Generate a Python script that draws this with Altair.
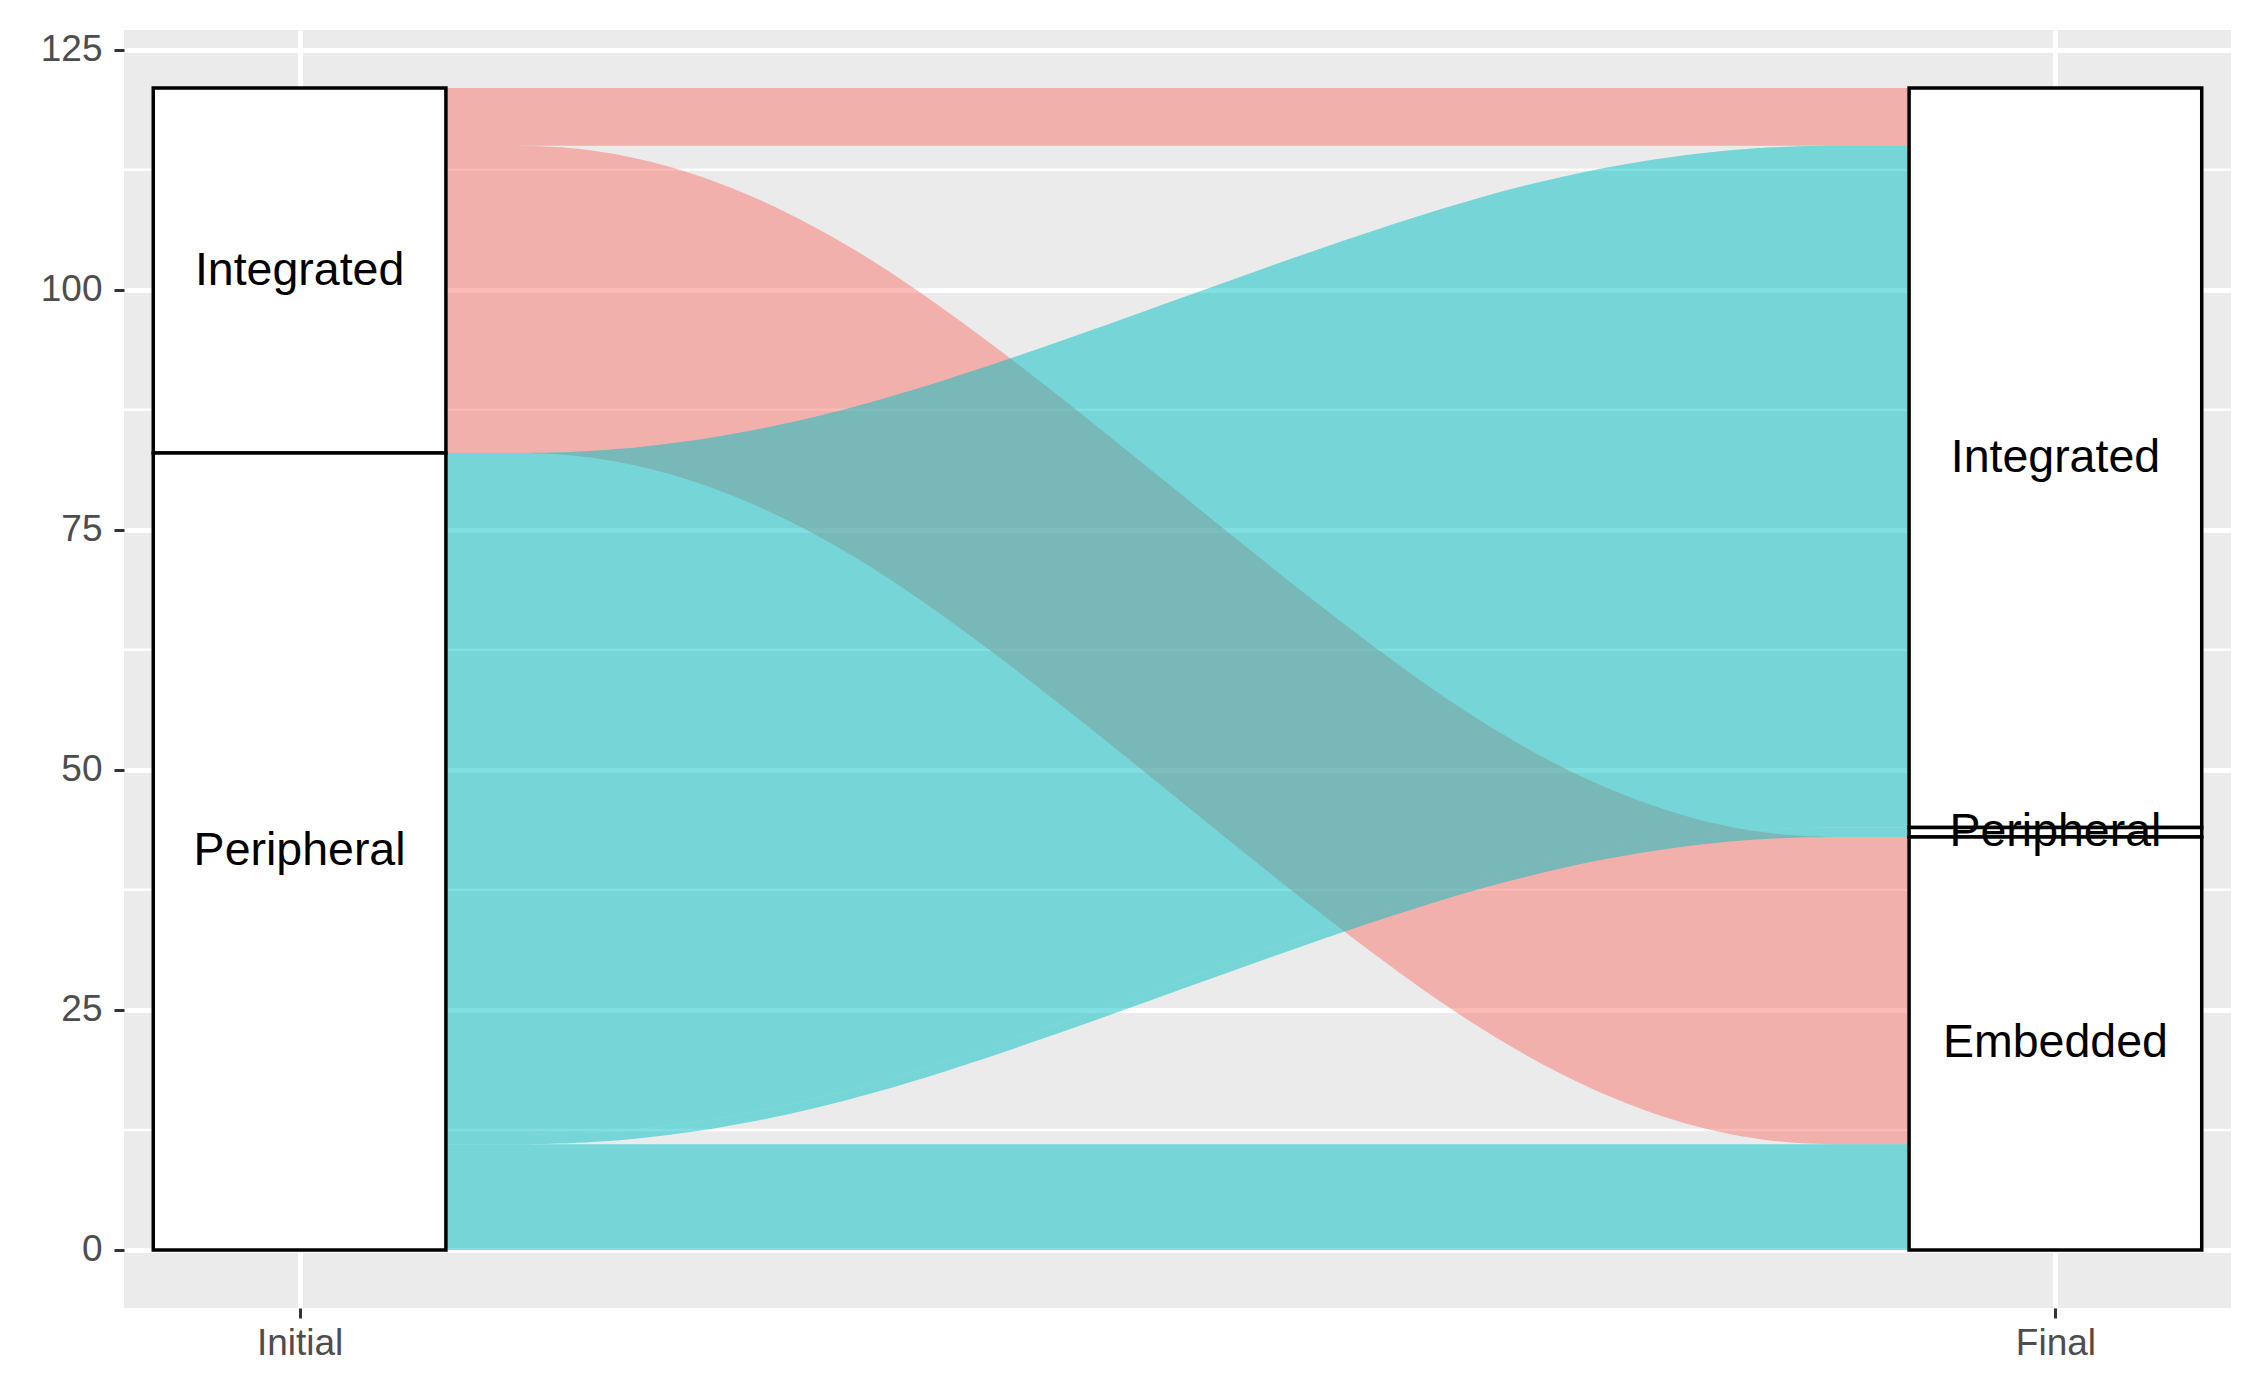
import altair as alt
import pandas as pd

# ---- data ----
axis_names = ["Initial", "Final"]
initial_strata = ["Integrated", "Peripheral"]
initial_counts = [38, 83]
final_strata = ["Integrated", "Peripheral", "Embedded"]
final_counts = [77, 1, 43]
flow_from = ["Integrated", "Integrated", "Peripheral", "Peripheral", "Peripheral"]
flow_to = ["Integrated", "Embedded", "Integrated", "Peripheral", "Embedded"]
flow_counts = [6, 32, 71, 1, 11]
y_ticks = [0, 25, 50, 75, 100, 125]
fill_colors = {"Integrated": "#F8766D", "Peripheral": "#00BFC4"}

# ---- layout helpers (stratum half width in axis units) ----
HW = 1 / 12
total = sum(initial_counts)


def stack(names, counts):
    out = {}
    top = total
    for n, c in zip(names, counts):
        out[n] = (top - c, top)
        top -= c
    return out


init_pos = stack(initial_strata, initial_counts)
fin_pos = stack(final_strata, final_counts)

strata_rows = []
for n in initial_strata:
    lo, hi = init_pos[n]
    strata_rows.append(dict(x0=1 - HW, x1=1 + HW, xc=1.0, y0=lo, y1=hi, ym=(lo + hi) / 2, label=n))
for n in final_strata:
    lo, hi = fin_pos[n]
    strata_rows.append(dict(x0=2 - HW, x1=2 + HW, xc=2.0, y0=lo, y1=hi, ym=(lo + hi) / 2, label=n))
strata_df = pd.DataFrame(strata_rows)

start_top = {n: init_pos[n][1] for n in initial_strata}
end_top = {n: fin_pos[n][1] for n in final_strata}
order_to = {n: i for i, n in enumerate(final_strata)}
order_from = {n: i for i, n in enumerate(initial_strata)}
flows = list(zip(flow_from, flow_to, flow_counts))

start = {}
for f in sorted(range(len(flows)), key=lambda i: (order_from[flows[i][0]], order_to[flows[i][1]])):
    a, b, c = flows[f]
    start[f] = (start_top[a] - c, start_top[a])
    start_top[a] -= c
end = {}
for f in sorted(range(len(flows)), key=lambda i: (order_to[flows[i][1]], order_from[flows[i][0]])):
    a, b, c = flows[f]
    end[f] = (end_top[b] - c, end_top[b])
    end_top[b] -= c

x0, x1 = 1 + HW, 2 - HW
L = x1 - x0

minor = [(y_ticks[i] + y_ticks[i + 1]) / 2 for i in range(len(y_ticks) - 1)]
minor_df = pd.DataFrame({"yv": minor})

FONT = "Liberation Sans"
xscale = alt.Scale(domain=[0.9, 2.1], nice=False, zero=False)
yscale = alt.Scale(domain=[-6.05, 127.05], nice=False, zero=False)

xaxis = alt.Axis(values=[1, 2], labelExpr="datum.value == 1 ? 'Initial' : 'Final'",
                 title=None, domain=False, grid=True, gridColor="white", gridWidth=5,
                 tickColor="#333333", tickWidth=3, tickSize=10, labelFont=FONT,
                 labelFontSize=37, labelColor="#4D4D4D", labelPadding=7)
yaxis = alt.Axis(values=y_ticks, title=None, domain=False, grid=True, gridColor="white",
                 gridWidth=5, tickColor="#333333", tickWidth=3, tickSize=10, labelFont=FONT,
                 labelFontSize=37, labelColor="#4D4D4D", labelPadding=12)

grid_minor = alt.Chart(minor_df).mark_rule(color="white", strokeWidth=2.5).encode(
    y=alt.Y("yv:Q", scale=yscale, axis=yaxis),
    x=alt.value(0), x2=alt.value(2107))

layers = [grid_minor]
# pink flows first, cyan on top
for src in initial_strata:
    for f, (a, b, c) in enumerate(flows):
        if a != src:
            continue
        ctrl = [(x0, start[f]), (x0 + 0.25 * L, start[f]), (x0 + 0.75 * L, end[f]), (x1, end[f])]
        df = pd.DataFrame([dict(xv=float(xx), lo=float(lo), hi=float(hi)) for xx, (lo, hi) in ctrl])
        layers.append(
            alt.Chart(df).mark_area(interpolate="basis", fill=fill_colors[a], fillOpacity=0.5,
                                    orient="vertical").encode(
                x=alt.X("xv:Q", scale=xscale, axis=xaxis),
                y=alt.Y("hi:Q", scale=yscale, stack=None, axis=yaxis),
                y2="lo:Q")
        )

boxes = alt.Chart(strata_df).mark_rect(fill="white", stroke="black", strokeWidth=3.5).encode(
    x=alt.X("x0:Q", scale=xscale, axis=xaxis), x2="x1:Q",
    y=alt.Y("y0:Q", scale=yscale, axis=yaxis), y2="y1:Q")

labels = alt.Chart(strata_df).mark_text(font=FONT, fontSize=46.5, color="black", baseline="middle").encode(
    x=alt.X("xc:Q", scale=xscale, axis=xaxis),
    y=alt.Y("ym:Q", scale=yscale, axis=yaxis),
    text="label:N")

layers += [boxes, labels]

chart = alt.layer(*layers).properties(
    width=2107, height=1278,
    autosize=alt.AutoSizeParams(type="none"),
    padding={"left": 116, "top": 22, "right": 5, "bottom": 74},
).configure_view(fill="#EBEBEB", stroke=None)

chart.save("out.html", embed_options={"renderer": "svg", "actions": False})
